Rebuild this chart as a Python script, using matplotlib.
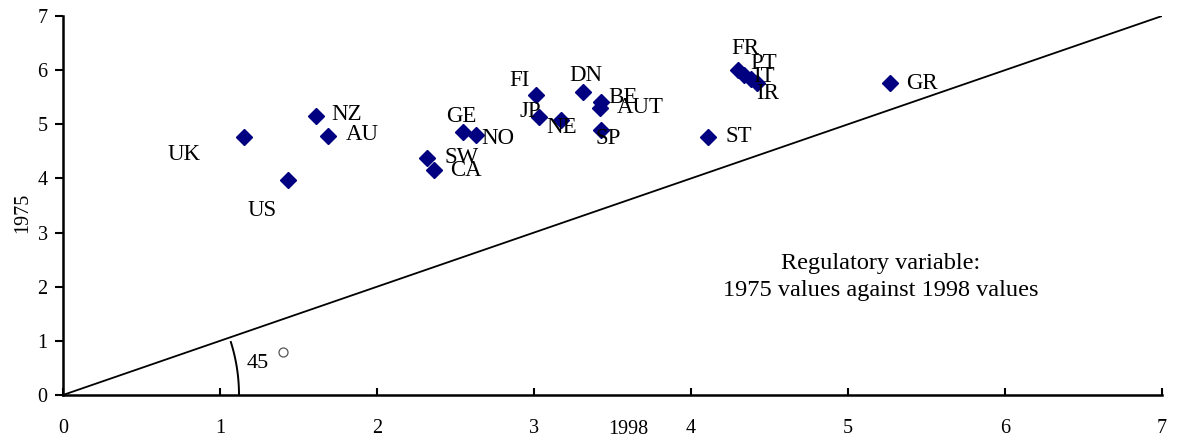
import numpy as np
import matplotlib
matplotlib.use('Agg')
import matplotlib.pyplot as plt

plt.rcParams['font.family'] = ['Liberation Serif', 'DejaVu Serif']

# country codes, 1998 values (x) and 1975 values (y)
countries = ['UK', 'NZ', 'AU', 'US', 'SW', 'CA', 'GE', 'NO', 'FI', 'JP', 'NE',
             'DN', 'BE', 'AUT', 'SP', 'ST', 'FR', 'PT', 'IT', 'IR', 'GR']
v1998 = [1.15, 1.61, 1.69, 1.43, 2.32, 2.36, 2.55, 2.63, 3.01, 3.03, 3.17,
         3.31, 3.43, 3.42, 3.43, 4.11, 4.30, 4.34, 4.38, 4.42, 5.27]
v1975 = [4.77, 5.16, 4.79, 3.97, 4.38, 4.16, 4.85, 4.81, 5.55, 5.14, 5.08,
         5.60, 5.42, 5.31, 4.90, 4.77, 6.01, 5.91, 5.84, 5.77, 5.76]

# label offsets in pixels (left edge, vertical centre)
offsets = {'UK': (-76, -18), 'NZ': (16, 1), 'AU': (17, 1), 'US': (-40, -30),
           'SW': (17, 0), 'CA': (17, -1), 'GE': (-17, 16), 'NO': (5, -4),
           'FI': (-26, 14), 'JP': (-19, 5), 'NE': (-14, -8), 'DN': (-13, 16),
           'BE': (7, 4), 'AUT': (17, 0), 'SP': (-6, -9), 'ST': (17, 0),
           'FR': (-7, 21), 'PT': (6, 12), 'IT': (3, 2), 'IR': (-1, -11),
           'GR': (16, 0)}

fig = plt.figure(figsize=(11.8, 4.4), dpi=100)
ax = fig.add_axes([0.0534, 0.1023, 0.9313, 0.8613])

ax.plot([0, 7], [0, 7], color='black', lw=1.3, zorder=1)
ax.plot(v1998, v1975, 'D', color='#000080', ms=8, zorder=3)

for c, x, y in zip(countries, v1998, v1975):
    dx, dy = offsets[c]
    ax.annotate(c, (x, y), xytext=(dx, dy), textcoords='offset pixels',
                ha='left', va='center', fontsize=16.5)

# 45 degree angle marker, drawn as a circular arc in screen space
t = np.radians(np.linspace(0, 17.5, 40))
r = 176.0
ax.plot(r * np.cos(t) / 157.0, r * np.sin(t) / 54.14, color='black', lw=1.4)
ax.text(1.24, 0.58, '45', fontsize=16, ha='center', va='center')
ax.plot([1.40], [0.80], 'o', mfc='white', mec='#555555', ms=6.5, mew=0.9)

ax.text(5.21, 2.18, 'Regulatory variable:\n1975 values against 1998 values',
        ha='center', va='center', fontsize=17.5, linespacing=1.4)

ax.set_xlim(0, 7)
ax.set_ylim(0, 7)
ax.set_xticks(range(8))
ax.set_yticks(range(8))
ax.spines['top'].set_visible(False)
ax.spines['right'].set_visible(False)
ax.spines['left'].set_linewidth(1.8)
ax.spines['bottom'].set_linewidth(1.8)
ax.tick_params(axis='y', direction='out', length=6, width=1.5, labelsize=14.5, pad=5)
ax.tick_params(axis='x', direction='in', length=5, width=1.5, labelsize=14.5, pad=17)

ax.set_xlabel('1998', fontsize=14.5, va='center')
ax.xaxis.set_label_coords(0.514, -0.092)
ax.set_ylabel('1975', fontsize=14.5, va='center')
ax.yaxis.set_label_coords(-0.037, 0.48)

fig.savefig('out.png', dpi=100)
